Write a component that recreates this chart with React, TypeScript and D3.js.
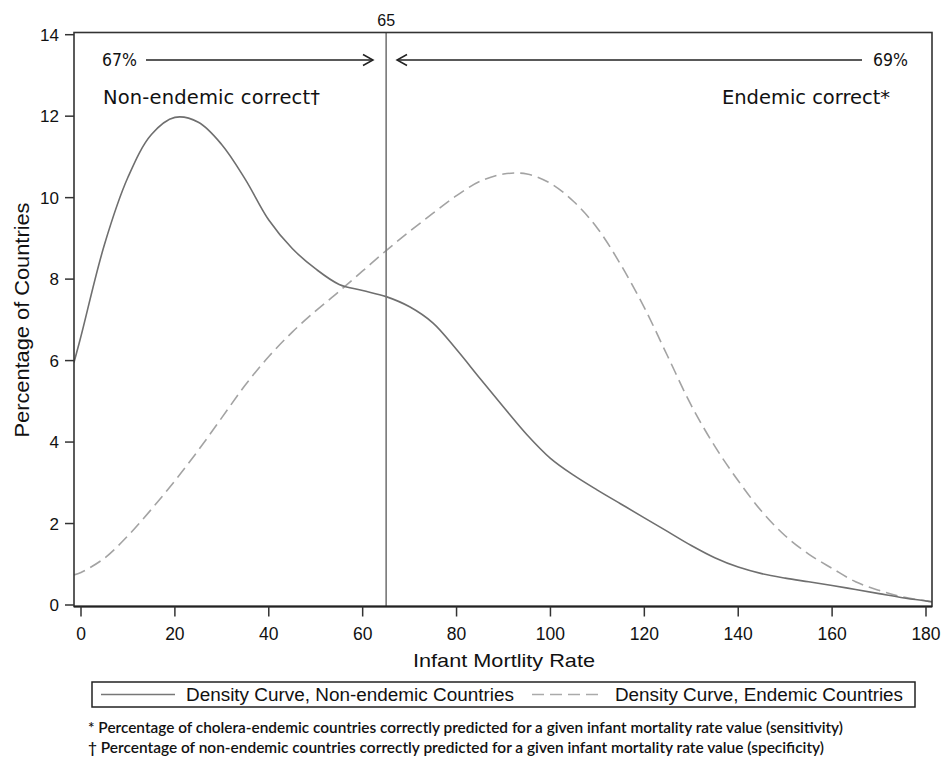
import React from "react";
import * as d3 from "d3";

// Infant mortality rate grid (x values)
const rateValues = [-1.5, 0, 5, 10, 15, 20, 25, 30, 35, 40, 45, 50, 55, 60, 65, 70, 75, 80, 85, 90, 95, 100, 105, 110, 115, 120, 125, 130, 135, 140, 145, 150, 155, 160, 165, 170, 175, 180, 181.3];
// Density curve, non-endemic countries (percentage)
const nonEndemicValues = [5.95, 6.6, 8.85, 10.5, 11.55, 11.97, 11.85, 11.3, 10.45, 9.45, 8.75, 8.25, 7.87, 7.72, 7.57, 7.32, 6.92, 6.27, 5.56, 4.86, 4.18, 3.6, 3.18, 2.82, 2.48, 2.14, 1.8, 1.46, 1.16, 0.93, 0.77, 0.66, 0.57, 0.48, 0.38, 0.28, 0.18, 0.1, 0.08];
// Density curve, endemic countries (percentage)
const endemicValues = [0.74, 0.8, 1.15, 1.7, 2.35, 3.05, 3.8, 4.6, 5.4, 6.1, 6.7, 7.22, 7.7, 8.2, 8.7, 9.17, 9.62, 10.05, 10.4, 10.58, 10.58, 10.35, 9.9, 9.25, 8.35, 7.3, 6.1, 4.9, 3.9, 3.05, 2.3, 1.7, 1.25, 0.9, 0.57, 0.36, 0.2, 0.1, 0.08];

const xTicks = [0, 20, 40, 60, 80, 100, 120, 140, 160, 180];
const yTicks = [0, 2, 4, 6, 8, 10, 12, 14];
const cutoff = 65;
const leftPct = "67%";
const rightPct = "69%";
const leftLabel = "Non-endemic correct\u2020";
const rightLabel = "Endemic correct*";
const xTitle = "Infant Mortlity Rate";
const yTitle = "Percentage of Countries";
const legendLabels = ["Density Curve, Non-endemic Countries", "Density Curve, Endemic Countries"];
const footnotes = [
  "* Percentage of cholera-endemic countries correctly predicted for a given infant mortality rate value (sensitivity)",
  "\u2020 Percentage of non-endemic countries correctly predicted for a given infant mortality rate value (specificity)",
];

const W = 943;
const H = 758;
const box = { left: 74, right: 932, top: 32.5, bottom: 606.5 };

export default function App() {
  const x = d3.scaleLinear().domain([0, 180]).range([81, 926]);
  const y = d3.scaleLinear().domain([0, 14]).range([605, 34.7]);

  const solidPts: [number, number][] = rateValues.map((r, i) => [r, nonEndemicValues[i]]);
  const dashPts: [number, number][] = rateValues.map((r, i) => [r, endemicValues[i]]);
  const line = d3
    .line<[number, number]>()
    .x((d) => x(d[0]))
    .y((d) => y(d[1]))
    .curve(d3.curveCatmullRom.alpha(0.5));

  const axisFont = "'Liberation Sans', Arial, sans-serif";
  const annFont = "'DejaVu Sans', Verdana, sans-serif";
  const noteFont = "Lato, 'Open Sans', sans-serif";
  const xc = x(cutoff);
  const arrowY = 60;

  return (
    <svg width={W} height={H} style={{ position: "absolute", left: 0, top: 0, background: "#fff" }}>
      <rect x={0} y={0} width={W} height={H} fill="#fff" />
      <defs>
        <clipPath id="plotclip">
          <rect x={box.left} y={box.top} width={box.right - box.left} height={box.bottom - box.top} />
        </clipPath>
      </defs>

      {/* curves */}
      <g clipPath="url(#plotclip)">
        <path d={line(dashPts) || ""} fill="none" stroke="#a3a3a3" strokeWidth={1.6} strokeDasharray="12,6" />
        <path d={line(solidPts) || ""} fill="none" stroke="#6f6f6f" strokeWidth={1.6} />
      </g>

      {/* cutoff line */}
      <line x1={xc} x2={xc} y1={box.top} y2={box.bottom} stroke="#777" strokeWidth={1.6} />
      <text x={xc} y={26} textAnchor="middle" fontFamily={axisFont} fontSize={16} fill="#111">
        {cutoff}
      </text>

      {/* frame */}
      <rect x={box.left} y={box.top} width={box.right - box.left} height={box.bottom - box.top} fill="none" stroke="#333" strokeWidth={1.6} />
      <line x1={box.left} x2={box.right} y1={box.bottom} y2={box.bottom} stroke="#222" strokeWidth={2} />

      {/* y axis ticks */}
      {yTicks.map((t) => (
        <g key={"y" + t}>
          <line x1={box.left - 9} x2={box.left} y1={y(t)} y2={y(t)} stroke="#333" strokeWidth={1.5} />
          <text x={box.left - 15} y={y(t) + 6} textAnchor="end" fontFamily={axisFont} fontSize={17} fill="#111">
            {t}
          </text>
        </g>
      ))}
      {/* x axis ticks */}
      {xTicks.map((t) => (
        <g key={"x" + t}>
          <line x1={x(t)} x2={x(t)} y1={box.bottom} y2={box.bottom + 10} stroke="#333" strokeWidth={1.5} />
          <text x={x(t)} y={640} textAnchor="middle" fontFamily={axisFont} fontSize={17.5} fill="#111">
            {t}
          </text>
        </g>
      ))}

      {/* axis titles */}
      <text x={504} y={667} textAnchor="middle" fontFamily={axisFont} fontSize={19} fill="#111" textLength={182} lengthAdjust="spacingAndGlyphs">
        {xTitle}
      </text>
      <text
        transform={`translate(29, 320) rotate(-90)`}
        textAnchor="middle"
        fontFamily={axisFont}
        fontSize={19.5}
        fill="#111"
        textLength={235}
        lengthAdjust="spacingAndGlyphs"
      >
        {yTitle}
      </text>

      {/* arrows and annotations */}
      <text x={102} y={66} fontFamily={annFont} fontSize={17} fill="#111" textLength={35} lengthAdjust="spacingAndGlyphs">
        {leftPct}
      </text>
      <line x1={146} x2={373} y1={arrowY} y2={arrowY} stroke="#222" strokeWidth={1.5} />
      <polyline points={`${363},${arrowY - 5.5} ${373},${arrowY} ${363},${arrowY + 5.5}`} fill="none" stroke="#222" strokeWidth={1.5} />
      <line x1={397} x2={862} y1={arrowY} y2={arrowY} stroke="#222" strokeWidth={1.5} />
      <polyline points={`${407},${arrowY - 5.5} ${397},${arrowY} ${407},${arrowY + 5.5}`} fill="none" stroke="#222" strokeWidth={1.5} />
      <text x={873} y={66} fontFamily={annFont} fontSize={17} fill="#111" textLength={35} lengthAdjust="spacingAndGlyphs">
        {rightPct}
      </text>
      <text x={103} y={104} fontFamily={annFont} fontSize={19.5} fill="#111" textLength={217} lengthAdjust="spacing">
        {leftLabel}
      </text>
      <text x={722} y={104} fontFamily={annFont} fontSize={19.5} fill="#111" textLength={168} lengthAdjust="spacing">
        {rightLabel}
      </text>

      {/* legend */}
      <rect x={92} y={682} width={823} height={25} fill="#fff" stroke="#222" strokeWidth={1.5} />
      <line x1={101} x2={175} y1={694.5} y2={694.5} stroke="#777" strokeWidth={1.6} />
      <text x={186} y={700.5} fontFamily={axisFont} fontSize={17.5} fill="#111" textLength={328} lengthAdjust="spacingAndGlyphs">
        {legendLabels[0]}
      </text>
      <line x1={532} x2={603} y1={694.5} y2={694.5} stroke="#aaa" strokeWidth={1.6} strokeDasharray="12,6" />
      <text x={615} y={700.5} fontFamily={axisFont} fontSize={17.5} fill="#111" textLength={288} lengthAdjust="spacingAndGlyphs">
        {legendLabels[1]}
      </text>

      {/* footnotes */}
      <text x={88} y={733} fontFamily={noteFont} fontSize={15} fontWeight={600} fill="#111" textLength={755} lengthAdjust="spacingAndGlyphs">
        {footnotes[0]}
      </text>
      <text x={88} y={753} fontFamily={noteFont} fontSize={15} fontWeight={600} fill="#111" textLength={736} lengthAdjust="spacingAndGlyphs">
        {footnotes[1]}
      </text>
    </svg>
  );
}
